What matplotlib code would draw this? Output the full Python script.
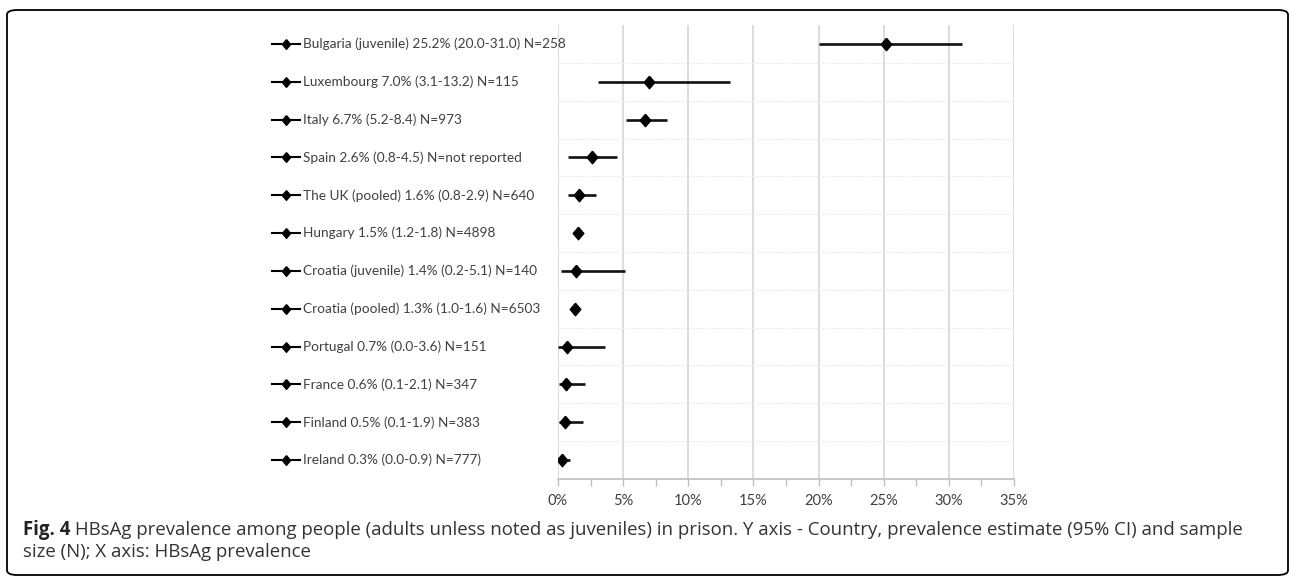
import matplotlib.pyplot as plt
import matplotlib.transforms as mtransforms
from matplotlib.patches import FancyBboxPatch
import numpy as np

labels = [
    "Bulgaria (juvenile) 25.2% (20.0-31.0) N=258",
    "Luxembourg 7.0% (3.1-13.2) N=115",
    "Italy 6.7% (5.2-8.4) N=973",
    "Spain 2.6% (0.8-4.5) N=not reported",
    "The UK (pooled) 1.6% (0.8-2.9) N=640",
    "Hungary 1.5% (1.2-1.8) N=4898",
    "Croatia (juvenile) 1.4% (0.2-5.1) N=140",
    "Croatia (pooled) 1.3% (1.0-1.6) N=6503",
    "Portugal 0.7% (0.0-3.6) N=151",
    "France 0.6% (0.1-2.1) N=347",
    "Finland 0.5% (0.1-1.9) N=383",
    "Ireland 0.3% (0.0-0.9) N=777)",
]
estimate = [25.2, 7.0, 6.7, 2.6, 1.6, 1.5, 1.4, 1.3, 0.7, 0.6, 0.5, 0.3]
ci_low = [20.0, 3.1, 5.2, 0.8, 0.8, 1.2, 0.2, 1.0, 0.0, 0.1, 0.1, 0.0]
ci_high = [31.0, 13.2, 8.4, 4.5, 2.9, 1.8, 5.1, 1.6, 3.6, 2.1, 1.9, 0.9]
x_ticks = [0, 5, 10, 15, 20, 25, 30, 35]
caption_bold = "Fig. 4"
caption_line1 = ("HBsAg prevalence among people (adults unless noted as juveniles) in prison. "
                 "Y axis - Country, prevalence estimate (95% CI) and sample")
caption_line2 = "size (N); X axis: HBsAg prevalence"

W, H = 1290, 578
fig = plt.figure(figsize=(W / 100, H / 100), dpi=100)
ax = fig.add_axes([0.4326, 0.1713, 0.3535, 0.7854])

# slightly tall diamond, like the Excel marker
diamond = [(0, 1), (0.85, 0), (0, -1), (-0.85, 0), (0, 1)]

n = len(labels)
y = np.arange(n)[::-1]
est = np.array(estimate)
lo = np.array(ci_low)
hi = np.array(ci_high)

ax.hlines(y, lo, hi, color="#111111", lw=1.9, zorder=3)
ax.plot(est, y, linestyle="none", marker=diamond, ms=9, color="black", zorder=4)

ax.set_xlim(0, 35)
ax.set_ylim(-0.5, n - 0.5)
ax.set_xticks(x_ticks)
ax.set_xticklabels([f"{t}%" for t in x_ticks])
ax.set_xticks(np.arange(0, 35.1, 2.5), minor=True)
ax.tick_params(axis="x", which="both", length=5, color="#bfbfbf", width=1,
               labelsize=10.5, labelcolor="#404040", pad=6)
for t in ax.get_xticklabels():
    t.set_family(["Lato", "DejaVu Sans"])
ax.set_yticks(np.arange(n - 1) + 0.5)
ax.tick_params(axis="y", length=0, labelleft=False)
ax.grid(axis="x", color="#d9d9d9", lw=1.3)
ax.grid(axis="y", color="#ececec", lw=0.8, linestyle=(0, (2, 1)))
ax.set_axisbelow(True)
for side in ["top", "right", "left"]:
    ax.spines[side].set_visible(False)
ax.spines["bottom"].set_color("#bfbfbf")
ax.spines["bottom"].set_linewidth(1.2)

# legend-style keys and labels on the left
trans = mtransforms.blended_transform_factory(ax.transAxes, ax.transData)
for yi, lab in zip(y, labels):
    ax.plot([-0.627, -0.566], [yi, yi], color="black", lw=1.5,
            transform=trans, clip_on=False)
    ax.plot([-0.596], [yi], marker=diamond, ms=7, color="black",
            transform=trans, clip_on=False)
    ax.text(-0.5595, yi, lab, transform=trans, ha="left", va="center",
            fontsize=9.8, color="#404040", family=["Lato", "DejaVu Sans"])

# caption, shrunk to fit the reference line width
cap_font = ["Open Sans", "DejaVu Sans"]
cap_x = 23 / W
cap_size = 13.5
renderer = fig.canvas.get_renderer()
for _ in range(3):
    t1 = fig.text(cap_x, 1 - 530 / H, caption_bold, fontsize=cap_size,
                  fontweight="bold", va="center", ha="left", family=cap_font)
    t2 = fig.text(0, 1 - 530 / H, " " + caption_line1, fontsize=cap_size,
                  va="center", ha="left", family=cap_font)
    w = t1.get_window_extent(renderer).width + t2.get_window_extent(renderer).width
    t1.remove()
    t2.remove()
    cap_size = cap_size * 1220 / w
t1 = fig.text(cap_x, 1 - 530 / H, caption_bold, fontsize=cap_size,
              fontweight="bold", va="center", ha="left", family=cap_font,
              color="#222222")
bb = t1.get_window_extent(renderer)
fig.text(bb.x1 / W, 1 - 530 / H, " " + caption_line1, fontsize=cap_size,
         va="center", ha="left", family=cap_font, color="#333333")
fig.text(cap_x, 1 - 552 / H, caption_line2, fontsize=cap_size,
         va="center", ha="left", family=cap_font, color="#333333")

frame = FancyBboxPatch((7 / W, 3 / H), 1281 / W, 565 / H, transform=fig.transFigure,
                       boxstyle="round,pad=0,rounding_size=0.008",
                       fill=False, edgecolor="black", lw=1.3)
fig.patches.append(frame)

fig.savefig("out.png", dpi=100)
